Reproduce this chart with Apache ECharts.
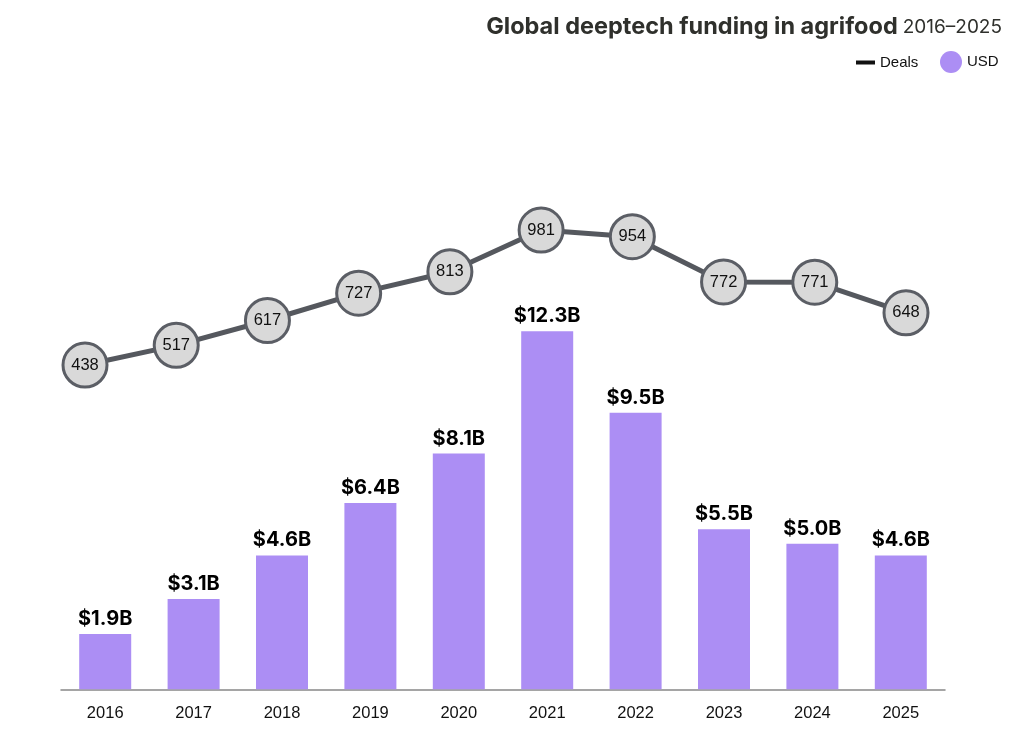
<!DOCTYPE html>
<html>
<head>
<meta charset="utf-8">
<script src="https://cdn.jsdelivr.net/npm/echarts@6/dist/echarts.min.js"></script>
<style>
html,body{margin:0;padding:0;background:#fff;}
#chart{width:1024px;height:731px;}
</style>
</head>
<body>
<div id="chart"></div>
<script>
var years = ['2016','2017','2018','2019','2020','2021','2022','2023','2024','2025'];
var usdBillions = [1.9, 3.1, 4.6, 6.4, 8.1, 12.3, 9.5, 5.5, 5.0, 4.6];
var deals = [438, 517, 617, 727, 813, 981, 954, 772, 771, 648];

var FONT = '"Liberation Sans", Arial, sans-serif';
var TFONT = 'Inter, "Liberation Sans", Arial, sans-serif';
var chart = echarts.init(document.getElementById('chart'));
chart.setOption({
  backgroundColor: '#ffffff',
  animation: false,
  textStyle: { fontFamily: FONT },
  title: {
    right: 22,
    top: 9,
    padding: 0,
    text: '{b|Global deeptech funding in agrifood} {r|2016\u20132025}',
    textStyle: {
      rich: {
        b: { fontFamily: TFONT, fontSize: 23.5, fontWeight: 'bold', color: '#2f302c', lineHeight: 36 },
        r: { fontFamily: TFONT, fontSize: 19, fontWeight: 'normal', color: '#2f302c', lineHeight: 36 }
      }
    }
  },
  legend: [
    {
      left: 856, top: 55, padding: 0,
      icon: 'rect', itemWidth: 19, itemHeight: 4, itemGap: 5,
      textStyle: { fontFamily: FONT, fontSize: 15, color: '#111' },
      data: [{ name: 'Deals', icon: 'rect', itemStyle: { color: '#111', borderWidth: 0 } }]
    },
    {
      left: 940, top: 51, padding: 0,
      icon: 'circle', itemWidth: 22, itemHeight: 22, itemGap: 5,
      textStyle: { fontFamily: FONT, fontSize: 15, color: '#111' },
      data: [{ name: 'USD', icon: 'circle' }]
    }
  ],
  grid: [
    { left: 61, right: 79, top: 281.9, bottom: 41.7 },
    { left: 85, right: 118, top: 225.3, bottom: 257.1 }
  ],
  xAxis: [
    {
      type: 'category', gridIndex: 0, data: years,
      axisLine: { lineStyle: { color: '#888', width: 1.5 } },
      axisTick: { show: false },
      axisLabel: { color: '#111', fontSize: 16.5, margin: 16, fontFamily: FONT }
    },
    {
      type: 'category', gridIndex: 1, data: years, boundaryGap: false, show: false
    }
  ],
  yAxis: [
    { type: 'value', gridIndex: 0, min: 0, max: 14, show: false, splitLine: { show: false } },
    { type: 'value', gridIndex: 1, min: 0, max: 1000, show: false, splitLine: { show: false } }
  ],
  series: [
    {
      name: 'USD', type: 'bar', xAxisIndex: 0, yAxisIndex: 0,
      data: usdBillions, barWidth: 52,
      itemStyle: { color: '#ac8ef4' },
      label: {
        show: true, position: 'top', distance: 5,
        fontFamily: TFONT, fontSize: 20, fontWeight: 'bold', color: '#000',
        formatter: function (p) { return '$' + p.value.toFixed(1) + 'B'; }
      }
    },
    {
      name: 'Deals', type: 'line', xAxisIndex: 1, yAxisIndex: 1,
      data: deals, clip: false, z: 5,
      lineStyle: { color: '#55585e', width: 5 },
      symbol: 'circle', symbolSize: 44,
      itemStyle: { color: '#d9d9d9', borderColor: '#5b5e65', borderWidth: 3 },
      label: {
        show: true, position: 'inside',
        fontFamily: FONT, fontSize: 16.5, color: '#111'
      }
    }
  ]
});
</script>
</body>
</html>
